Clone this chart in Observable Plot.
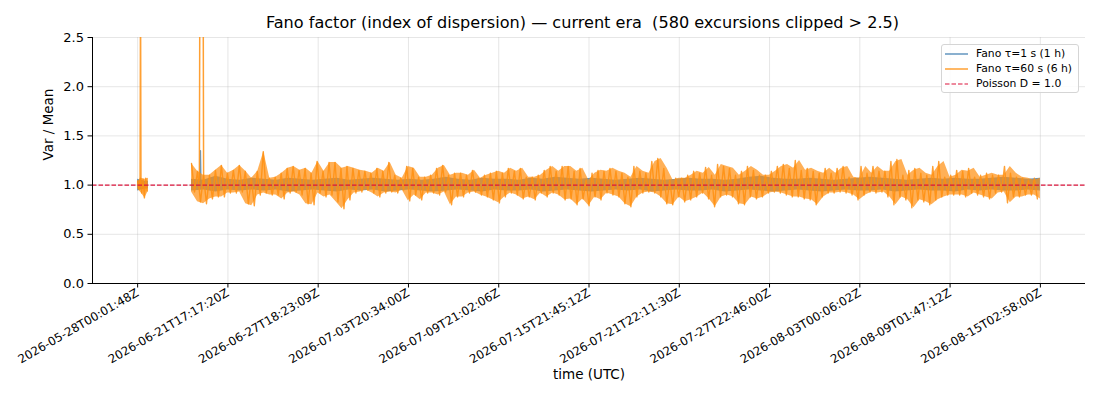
<!DOCTYPE html>
<html><head><meta charset="utf-8">
<script src="https://cdn.jsdelivr.net/npm/d3@7"></script>
<script src="https://cdn.jsdelivr.net/npm/@observablehq/plot@0.6"></script>
<style>
body{margin:0;background:#fff;font-family:"DejaVu Sans",sans-serif;}
#wrap{position:relative;width:1100px;height:400px;overflow:hidden;}
#title{height:30px;line-height:46px;text-align:center;font-size:16.1px;white-space:pre;padding-left:80px;padding-right:15px;box-sizing:border-box;width:1100px;color:#000;overflow:visible;}
#legend{position:absolute;left:941px;top:44px;width:138px;height:49px;border:1px solid #d5d5d5;border-radius:3px;background:rgba(255,255,255,0.85);font-size:10.8px;box-sizing:border-box;}
#legend .row{position:absolute;left:3px;height:14px;line-height:14px;white-space:nowrap;}
#legend svg{vertical-align:middle;margin-right:8px;}
</style></head>
<body><div id="wrap"><div id="title"></div><div id="chart"></div><div id="legend"></div></div>
<script>
// ---------- text ----------
const titleText = "Fano factor (index of dispersion) \u2014 current era  (580 excursions clipped > 2.5)";
const xAxisLabel = ["time (UTC)"];
const yAxisLabel = ["Var / Mean"];
const seriesNames = ["Fano \u03c4=1 s (1 h)", "Fano \u03c4=60 s (6 h)", "Poisson D = 1.0"];

// ---------- axes ----------
const xTickVals = [0,1,2,3,4,5,6,7,8,9,10];
const xTickLabels = ["2026-05-28T00:01:48Z","2026-06-21T17:17:20Z","2026-06-27T18:23:09Z","2026-07-03T20:34:00Z","2026-07-09T21:02:06Z","2026-07-15T21:45:12Z","2026-07-21T22:11:30Z","2026-07-27T22:46:00Z","2026-08-03T00:06:02Z","2026-08-09T01:47:12Z","2026-08-15T02:58:00Z"];
const yTickVals = [0, 0.5, 1.0, 1.5, 2.0, 2.5];
const xDomain = [-0.5, 10.5];
const yDomain = [0, 2.5];
const poissonLevel = [1.0];

// ---------- data (x in tick-index units) ----------
// first short segment
const seg1Span = [0, 0.12];
const orangeSeg1Hi = [1.04, 1.07, 1.06, 1.07];
const orangeSeg1Lo = [0.96, 0.92, 0.87, 0.94];
const blueSeg1Hi = [1.06, 1.05, 1.04, 1.04];
const blueSeg1Lo = [0.94, 0.95, 0.96, 0.96];
// main segment
const mainSpan = [0.597, 10.0];
const orangeHi = [1.22,1.14,1.10,1.10,1.15,1.20,1.12,1.15,1.20,1.14,
 1.07,1.14,1.34,1.07,1.08,1.12,1.17,1.19,1.15,1.17,
 1.12,1.24,1.14,1.23,1.23,1.17,1.19,1.17,1.15,1.14,
 1.12,1.17,1.14,1.23,1.10,1.07,1.19,1.17,1.08,1.08,
 1.10,1.17,1.20,1.10,1.12,1.12,1.10,1.15,1.07,1.10,
 1.12,1.14,1.12,1.17,1.14,1.17,1.08,1.08,1.10,1.15,
 1.19,1.14,1.19,1.19,1.14,1.17,1.05,1.12,1.15,1.14,
 1.17,1.14,1.12,1.08,1.19,1.14,1.12,1.24,1.27,1.17,
 1.05,1.07,1.07,1.10,1.14,1.12,1.18,1.10,1.21,1.19,
 1.17,1.10,1.14,1.19,1.15,1.10,1.10,1.14,1.19,1.21,
 1.17,1.25,1.15,1.17,1.14,1.12,1.17,1.12,1.17,1.19,
 1.08,1.07,1.19,1.12,1.19,1.14,1.14,1.24,1.26,1.10,
 1.15,1.17,1.12,1.10,1.19,1.24,1.08,1.10,1.15,1.14,
 1.17,1.08,1.10,1.12,1.10,1.10,1.19,1.12,1.08,1.07,
 1.05,1.07];
const orangeLo = [0.93,0.83,0.81,0.86,0.88,0.88,0.92,0.92,0.93,0.81,
 0.79,0.90,0.92,0.90,0.90,0.86,0.92,0.93,0.90,0.81,
 0.80,0.92,0.88,0.90,0.83,0.76,0.85,0.92,0.93,0.95,
 0.92,0.88,0.92,0.93,0.92,0.95,0.84,0.90,0.85,0.92,
 0.92,0.90,0.93,0.80,0.88,0.88,0.92,0.93,0.90,0.88,
 0.85,0.82,0.88,0.92,0.90,0.86,0.88,0.85,0.92,0.88,
 0.92,0.90,0.85,0.86,0.80,0.86,0.79,0.88,0.85,0.92,
 0.90,0.88,0.81,0.78,0.88,0.92,0.93,0.92,0.88,0.81,
 0.80,0.88,0.83,0.85,0.88,0.92,0.86,0.78,0.88,0.90,
 0.88,0.81,0.80,0.88,0.86,0.88,0.92,0.93,0.92,0.90,
 0.88,0.88,0.86,0.85,0.80,0.88,0.92,0.92,0.93,0.92,
 0.90,0.85,0.90,0.93,0.92,0.93,0.88,0.80,0.88,0.85,
 0.77,0.85,0.83,0.80,0.85,0.88,0.90,0.90,0.90,0.88,
 0.92,0.90,0.88,0.86,0.92,0.93,0.82,0.88,0.88,0.90,
 0.90,0.86];
const blueHi = [1.06,1.05,1.09,1.06,1.05,1.07,1.06,1.05,1.07,1.06,
 1.05,1.06,1.07,1.05,1.06,1.07,1.06,1.05,1.06,1.05,
 1.06,1.08,1.06,1.05,1.07,1.06,1.06,1.05,1.07,1.06,
 1.08,1.07,1.06,1.07,1.06,1.05,1.06,1.07,1.06,1.05,
 1.06,1.07,1.06,1.06,1.05,1.06,1.08,1.09,1.07,1.06,
 1.06,1.07,1.06,1.05,1.06,1.07,1.08,1.07,1.06,1.05,
 1.06,1.07,1.06,1.07,1.06,1.06,1.07,1.08,1.07,1.06,1.07];
const blueLo = [0.94,0.95,0.93,0.95,0.94,0.95,0.94,0.95,0.93,0.94,
 0.95,0.94,0.93,0.95,0.94,0.95,0.93,0.94,0.95,0.94,
 0.93,0.94,0.95,0.94,0.93,0.95,0.94,0.94,0.95,0.93,
 0.94,0.95,0.94,0.93,0.94,0.95,0.94,0.95,0.93,0.94,
 0.95,0.94,0.94,0.95,0.93,0.94,0.95,0.94,0.93,0.94,
 0.95,0.94,0.93,0.94,0.95,0.94,0.94,0.95,0.93,0.94,
 0.95,0.94,0.94,0.93,0.95,0.94,0.95,0.94,0.94,0.95,0.94];
// clipped excursions (values above 2.5 are drawn past the top and clipped)
const orangeSpikeT = [0.027, 0.032, 0.037, 0.684, 0.689, 0.726, 0.731];
const orangeSpikeV = [1.00, 3.00, 1.00, 1.05, 3.00, 3.00, 1.00];
const orangeSpikeG = [0, 0, 0, 1, 1, 1, 1];
const blueSpikeT = [0.690, 0.696, 0.702];
const blueSpikeV = [1.02, 1.35, 1.00];

// ---------- build tables ----------
function band(hi, lo, span, seg) {
  const n = hi.length;
  return hi.map((h, i) => ({seg, t: span[0] + i * (span[1] - span[0]) / (n - 1), hi: h, lo: lo[i]}));
}
// zig-zag trace through each bin's max and min
function zigzag(hi, lo, span, seg) {
  const n = hi.length, step = (span[1] - span[0]) / n;
  const rows = [];
  hi.forEach((h, i) => {
    rows.push({seg, t: span[0] + i * step, v: h});
    rows.push({seg, t: span[0] + (i + 0.5) * step, v: lo[i]});
  });
  return rows;
}
const orangeRows = zigzag(orangeSeg1Hi, orangeSeg1Lo, seg1Span, 0).concat(zigzag(orangeHi, orangeLo, mainSpan, 1));
const orangeBand = band(orangeSeg1Hi, orangeSeg1Lo, seg1Span, 0).concat(band(orangeHi, orangeLo, mainSpan, 1));
const blueRows = band(blueSeg1Hi, blueSeg1Lo, seg1Span, 0).concat(band(blueHi, blueLo, mainSpan, 1));
const orangeSpikes = orangeSpikeT.map((t, i) => ({t, v: orangeSpikeV[i], g: orangeSpikeG[i]}));
const blueSpikes = blueSpikeT.map((t, i) => ({t, v: blueSpikeV[i]}));

const BLUE = "steelblue", ORANGE = "#ff8f0f", RED = "crimson";

document.getElementById("title").textContent = titleText;

const chart = Plot.plot({
  width: 1100, height: 370,
  marginTop: 7, marginBottom: 117, marginLeft: 92, marginRight: 15,
  style: {fontFamily: "DejaVu Sans, sans-serif", fontSize: "13px", color: "#000", background: "white"},
  x: {domain: xDomain, label: null},
  y: {domain: yDomain, label: null},
  marks: [
    Plot.gridX(xTickVals, {stroke: "#b0b0b0", strokeOpacity: 0.4, strokeWidth: 0.8}),
    Plot.gridY(yTickVals, {stroke: "#b0b0b0", strokeOpacity: 0.4, strokeWidth: 0.8}),
    Plot.areaY(blueRows, {x: "t", y1: "lo", y2: "hi", z: "seg", fill: BLUE, fillOpacity: 0.85}),
    Plot.line(blueSpikes, {x: "t", y: "v", stroke: BLUE, strokeOpacity: 0.85, strokeWidth: 1.3}),
    Plot.areaY(orangeBand, {x: "t", y1: "lo", y2: "hi", z: "seg", fill: ORANGE, fillOpacity: 0.7}),
    Plot.line(orangeRows, {x: "t", y: "v", z: "seg", stroke: ORANGE, strokeOpacity: 0.85, strokeWidth: 1.4}),
    Plot.line(orangeSpikes, {x: "t", y: "v", z: "g", stroke: ORANGE, strokeOpacity: 0.85, strokeWidth: 1.5, clip: true}),
    Plot.ruleY(poissonLevel, {stroke: RED, strokeWidth: 1.2, strokeDasharray: "4.5,2"}),
    Plot.ruleY([yDomain[0]], {stroke: "#000", strokeWidth: 1}),
    Plot.ruleX([xDomain[0]], {stroke: "#000", strokeWidth: 1}),
    Plot.axisY(yTickVals, {tickFormat: d3.format(".1f"), tickSize: 4.5, tickPadding: 4, fontSize: 13, label: null}),
    Plot.axisX(xTickVals, {tickFormat: i => xTickLabels[i], tickRotate: -30, tickSize: 4.5, tickPadding: 4, fontSize: 11.8, label: null}),
    Plot.text(xAxisLabel, {frameAnchor: "bottom", dy: 95, fontSize: 13.5}),
    Plot.text(yAxisLabel, {frameAnchor: "left", dx: -44, rotate: -90, fontSize: 13.5})
  ]
});
document.getElementById("chart").appendChild(chart);

// legend
const leg = document.getElementById("legend");
const swatches = [
  `<svg width="23" height="6"><line x1="0" y1="3" x2="23" y2="3" stroke="${BLUE}" stroke-opacity="0.85" stroke-width="1.5"/></svg>`,
  `<svg width="23" height="6"><line x1="0" y1="3" x2="23" y2="3" stroke="${ORANGE}" stroke-opacity="0.85" stroke-width="1.5"/></svg>`,
  `<svg width="23" height="6"><line x1="0" y1="3" x2="23" y2="3" stroke="${RED}" stroke-width="1.2" stroke-dasharray="4.5,2"/></svg>`
];
seriesNames.forEach((name, i) => {
  const row = document.createElement("div");
  row.className = "row";
  row.style.top = (1.5 + i * 15) + "px";
  row.innerHTML = swatches[i] + "<span>" + name + "</span>";
  leg.appendChild(row);
});
</script>
</body></html>
